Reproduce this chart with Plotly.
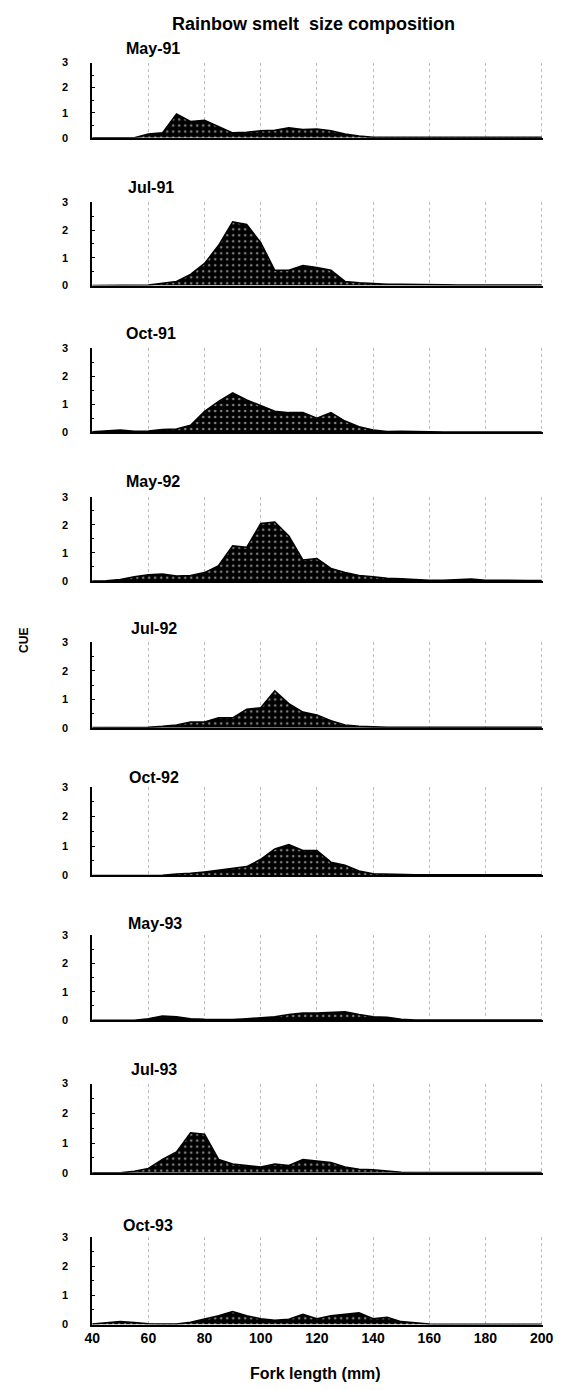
import plotly.graph_objects as go

W, H = 563, 1390

fork_length = list(range(40, 201, 5))

may_91 = [0, 0, 0, 0, 0.15, 0.2, 0.95, 0.65, 0.7, 0.45, 0.2, 0.22, 0.28, 0.3, 0.4, 0.33, 0.35,
          0.28, 0.15, 0.07, 0.02, 0.02, 0.02, 0.02, 0.02, 0.02, 0.02, 0.02, 0.02, 0.02, 0.02, 0.02, 0.02]
jul_91 = [0, 0, 0, 0, 0.02, 0.08, 0.15, 0.4, 0.8, 1.45, 2.3, 2.2, 1.55, 0.55, 0.55, 0.72, 0.65,
          0.55, 0.15, 0.1, 0.07, 0.05, 0.05, 0.05, 0.05, 0.03, 0.02, 0.02, 0.02, 0.02, 0.02, 0.02, 0.02]
oct_91 = [0.02, 0.06, 0.08, 0.04, 0.05, 0.1, 0.12, 0.25, 0.75, 1.1, 1.4, 1.15, 0.95, 0.75, 0.7, 0.7, 0.5,
          0.7, 0.4, 0.2, 0.08, 0.03, 0.04, 0.04, 0.02, 0.01, 0.01, 0.01, 0.01, 0.01, 0.01, 0.01, 0.01]
may_92 = [0, 0.01, 0.05, 0.15, 0.22, 0.25, 0.18, 0.2, 0.3, 0.55, 1.25, 1.2, 2.05, 2.1, 1.6, 0.75, 0.8,
          0.45, 0.3, 0.2, 0.15, 0.1, 0.08, 0.05, 0.03, 0.03, 0.06, 0.07, 0.03, 0.02, 0.02, 0.02, 0.02]
jul_92 = [0.01, 0.01, 0.01, 0.01, 0.02, 0.05, 0.1, 0.2, 0.2, 0.35, 0.35, 0.65, 0.7, 1.3, 0.85, 0.55, 0.45,
          0.25, 0.1, 0.05, 0.03, 0.02, 0.02, 0.02, 0.02, 0.02, 0.02, 0.02, 0.02, 0.02, 0.02, 0.02, 0.02]
oct_92 = [0, 0, 0, 0.02, 0.02, 0.01, 0.05, 0.07, 0.12, 0.18, 0.25, 0.3, 0.55, 0.9, 1.05, 0.85, 0.85,
          0.45, 0.35, 0.15, 0.06, 0.04, 0.02, 0.02, 0.02, 0.02, 0.02, 0.02, 0.02, 0.02, 0.02, 0.02, 0.02]
may_93 = [0, 0, 0, 0, 0.05, 0.15, 0.12, 0.05, 0.03, 0.02, 0.02, 0.05, 0.08, 0.12, 0.2, 0.25, 0.25,
          0.28, 0.3, 0.2, 0.12, 0.1, 0.03, 0.01, 0.01, 0.01, 0.01, 0.01, 0.01, 0.01, 0.01, 0.01, 0.01]
jul_93 = [0, 0, 0, 0.05, 0.15, 0.45, 0.7, 1.35, 1.3, 0.45, 0.3, 0.25, 0.2, 0.3, 0.25, 0.45, 0.4,
          0.35, 0.2, 0.12, 0.1, 0.05, 0.02, 0.01, 0.01, 0.01, 0.01, 0.01, 0.01, 0.01, 0.01, 0.01, 0.01]
oct_93 = [0.02, 0.05, 0.1, 0.07, 0.03, 0.02, 0.02, 0.08, 0.2, 0.3, 0.45, 0.3, 0.2, 0.15, 0.18, 0.35, 0.2,
          0.3, 0.35, 0.4, 0.2, 0.25, 0.1, 0.05, 0.02, 0.01, 0.01, 0.01, 0.01, 0.01, 0.01, 0.01, 0.01]

panel_labels = ["May-91", "Jul-91", "Oct-91", "May-92", "Jul-92", "Oct-92", "May-93", "Jul-93", "Oct-93"]
panel_values = [may_91, jul_91, oct_91, may_92, jul_92, oct_92, may_93, jul_93, oct_93]

x_ticks = [40, 60, 80, 100, 120, 140, 160, 180, 200]
y_ticks = [0, 1, 2, 3]

title_text = "Rainbow smelt  size composition"
x_title = "Fork length (mm)"
y_title = "CUE"

# page pixel positions: (top of y=3, baseline y=0)
panel_px = [(57, 133), (198, 282), (345, 430), (495, 580), (642, 728),
            (788, 877), (937, 1023), (1087, 1177), (1242, 1330)]
label_px = [(120, 43), (122, 183), (120, 330), (120, 480), (125, 628),
            (123, 778), (122, 925), (125, 1073), (117, 1230)]
x_left, x_right = 87, 553


def px(xp):
    return xp / W


def py(yp):
    return 1 - yp / H


FONT = "Liberation Sans, Arial, sans-serif"

fig = go.Figure()
layout = dict(
    width=W, height=H, autosize=False,
    margin=dict(l=0, r=0, t=0, b=0),
    paper_bgcolor="white", plot_bgcolor="white",
    showlegend=False,
    font=dict(family=FONT, color="black"),
)
annotations = []
n = len(panel_values)
for i, (vals, lab) in enumerate(zip(panel_values, panel_labels)):
    k = "" if i == 0 else str(i + 1)
    fig.add_trace(go.Scatter(
        x=fork_length, y=vals, mode="lines",
        line=dict(color="black", width=1.5),
        fill="tozeroy", fillcolor="black",
        fillpattern=dict(shape=".", bgcolor="black", fgcolor="white", size=6, solidity=0.15),
        xaxis="x" + k, yaxis="y" + k, hoverinfo="skip",
    ))
    top, bot = panel_px[i]
    last = (i == n - 1)
    layout["xaxis" + k] = dict(
        domain=[px(x_left), px(x_right)], anchor="y" + k,
        range=[40, 200.6], tickvals=x_ticks, ticktext=[str(v) for v in x_ticks],
        showticklabels=last, ticks="", ticklabeloverflow="allow",
        tickfont=dict(size=14, family=FONT, weight="bold", color="black"),
        showgrid=True, gridcolor="#bdbdbd", griddash="dot", gridwidth=1.2,
        showline=True, linecolor="black", linewidth=2, zeroline=False,
        title=None,
    )
    layout["yaxis" + k] = dict(
        domain=[py(bot), py(top)], anchor="x" + k,
        range=[0, 3.0], tickvals=y_ticks, ticktext=[str(v) for v in y_ticks],
        ticks="inside", ticklen=3, tickwidth=1, tickcolor="black",
        minor=dict(ticks="inside", ticklen=2, dtick=0.5, tickcolor="black"),
        ticklabelstandoff=20,
        tickfont=dict(size=11, family=FONT, weight="bold", color="black"),
        showgrid=False, zeroline=False,
        showline=True, linecolor="black", linewidth=2,
    )
    lx, ly = label_px[i]
    annotations.append(dict(
        text=lab, x=px(lx), y=py(ly), xref="paper", yref="paper",
        xanchor="left", yanchor="middle", showarrow=False,
        font=dict(size=16, family=FONT, weight="bold", color="black"),
    ))

annotations.append(dict(
    text=title_text, x=px(316), y=py(18), xref="paper", yref="paper",
    xanchor="center", yanchor="middle", showarrow=False,
    font=dict(size=18, family=FONT, weight="bold", color="black"),
))
annotations.append(dict(
    text=x_title, x=px(318), y=py(1379), xref="paper", yref="paper",
    xanchor="center", yanchor="middle", showarrow=False,
    font=dict(size=16, family=FONT, weight="bold", color="black"),
))
annotations.append(dict(
    text=y_title, x=px(17), y=py(640), xref="paper", yref="paper",
    xanchor="center", yanchor="middle", showarrow=False, textangle=-90,
    font=dict(size=12, family=FONT, weight="bold", color="black"),
))
layout["annotations"] = annotations
fig.update_layout(**layout)
fig.write_html("out.html", post_script="document.body.style.margin='0';document.body.style.overflow='hidden';")
